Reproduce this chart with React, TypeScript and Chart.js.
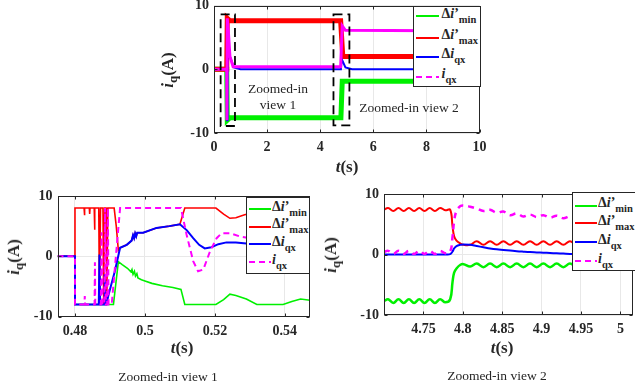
import React, { useEffect, useRef } from 'react';
import { Chart, registerables } from 'chart.js';
Chart.register(...registerables);

// ===================== DATA =====================
const SERIES_NAMES = ['Δi’min', 'Δi’max', 'Δiqx', 'iqx'];

// Overview, t = 0 … 10 s
const ovMinT = [0, 0.48, 0.5, 0.6, 4.78, 4.83, 10];
const ovMinV = [0, 0, -8, -7.6, -7.6, -1.9, -1.9];
const ovMaxT = [0, 0.48, 0.5, 0.6, 4.77, 4.85, 10];
const ovMaxV = [0, 0, 8, 7.6, 7.6, 2.0, 2.0];
const ovQxT = [0, 0.48, 0.49, 0.51, 0.6, 0.75, 1.0, 4.78, 4.81, 4.95, 5.2, 10];
const ovQxV = [0, 0, -8, 5.3, 2.0, 0.3, 0, 0, 1.6, 0.3, 0, 0];
const ovIqxT = [0, 0.48, 0.485, 0.5, 0.54, 0.6, 0.72, 4.77, 4.83, 4.95, 10];
const ovIqxV = [0, 0, -8, 8, 6.0, 2.0, 0.4, 0.4, 6.8, 6.1, 6.0];

// Zoomed-in view 1, t = 0.475 … 0.547 s
const z1MinT = [0.475, 0.48, 0.48, 0.491, 0.4924, 0.4935, 0.495, 0.496, 0.4963, 0.4966, 0.497, 0.4973, 0.4977, 0.498, 0.499, 0.5, 0.502, 0.505, 0.508, 0.5103, 0.5114, 0.5203, 0.5225, 0.5243, 0.526, 0.529, 0.532, 0.5395, 0.542, 0.5445, 0.5472];
const z1MinV = [0, 0, -8, -8, -0.9, -1.4, -2.0, -2.6, -2.2, -3.0, -2.5, -3.3, -2.9, -3.6, -3.9, -4.1, -4.5, -4.9, -5.2, -5.5, -8, -8, -7.2, -6.3, -6.5, -7.1, -8, -8, -7.5, -7.1, -7.3];
const z1MaxT = [0.475, 0.48, 0.48, 0.4826, 0.4827, 0.4828, 0.4841, 0.4842, 0.4843, 0.4855, 0.4856, 0.4857, 0.4868, 0.487, 0.4873, 0.488, 0.4882, 0.4885, 0.4889, 0.4891, 0.4894, 0.4912, 0.4918, 0.4924, 0.4929, 0.4948, 0.4962, 0.4966, 0.4969, 0.4972, 0.4975, 0.4978, 0.4995, 0.5033, 0.507, 0.51, 0.5114, 0.5203, 0.5225, 0.5243, 0.526, 0.5285, 0.531];
const z1MaxV = [0, 0, 8, 8, 6.8, 8, 8, 7.0, 8, 8, 4.4, 8, 8, -8, 8, 8, -8, 8, 8, -7, 8, 8, 5, 1.0, 1.4, 1.9, 2.6, 3.5, 3.0, 3.8, 3.3, 3.9, 3.9, 4.7, 5.0, 5.3, 8, 8, 7.0, 6.3, 6.4, 6.9, 7.2];
const z1QxT = [0.475, 0.48, 0.48, 0.4868, 0.487, 0.4872, 0.4883, 0.4885, 0.4887, 0.489, 0.4895, 0.4914, 0.4929, 0.4948, 0.4962, 0.4966, 0.4969, 0.4972, 0.4975, 0.4978, 0.4995, 0.5033, 0.507, 0.51, 0.512, 0.5138, 0.5155, 0.5171, 0.519, 0.521, 0.5233, 0.526, 0.529];
const z1QxV = [0, 0, -8, -8, 0.3, -8, -8, -3, -8, -8, -6.6, -2.5, 1.4, 1.9, 2.6, 3.5, 3.0, 3.8, 3.3, 3.9, 3.9, 4.7, 5.0, 5.3, 4.3, 3.0, 1.9, 1.3, 1.5, 2.0, 2.3, 2.3, 2.1];
const z1IqxT = [0.475, 0.48, 0.48, 0.4827, 0.4828, 0.4829, 0.4856, 0.4857, 0.4858, 0.4874, 0.4876, 0.4878, 0.4884, 0.4886, 0.4888, 0.4892, 0.4894, 0.4896, 0.4905, 0.4929, 0.5103, 0.5119, 0.5138, 0.5152, 0.5167, 0.5186, 0.5205, 0.5219, 0.5245, 0.5271, 0.53];
const z1IqxV = [0, 0, -8, -8, -6.6, -8, -8, -1, -8, -8, 4, -8, -8, 8, -8, -8, 8, -8, -8, 8, 8, 3.6, -0.8, -2.5, -2.2, 0.8, 3.0, 3.8, 3.8, 3.3, 3.0];

// Zoomed-in view 2, t = 4.70 … 5.016 s
const z2T = [4.7, 4.7052, 4.7118, 4.7184, 4.725, 4.7316, 4.7382, 4.7448, 4.7514, 4.758, 4.7646, 4.7712, 4.7778, 4.784, 4.787, 4.789, 4.792, 4.797, 4.801, 4.8093, 4.8177, 4.8262, 4.8346, 4.8431, 4.8515, 4.86, 4.8684, 4.8769, 4.8853, 4.8938, 4.9022, 4.9107, 4.9191, 4.9276, 4.936, 4.9445, 4.953];
const z2MinV = [-7.7, -7.4, -8.0, -7.4, -8.0, -7.4, -8.0, -7.4, -8.0, -7.4, -8.0, -7.4, -7.9, -7.4, -4.5, -3.0, -2.3, -1.7, -1.6, -2.0, -1.5, -2.1, -1.5, -2.1, -1.5, -2.1, -1.5, -2.1, -1.5, -2.1, -1.5, -2.1, -1.5, -2.1, -1.5, -2.1, -1.8];
const z2MaxV = [7.4, 7.7, 7.2, 7.7, 7.2, 7.7, 7.2, 7.7, 7.2, 7.7, 7.2, 7.7, 7.3, 7.4, 4.6, 3.0, 2.3, 1.8, 1.6, 1.6, 2.2, 1.6, 2.2, 1.6, 2.2, 1.6, 2.2, 1.6, 2.2, 1.6, 2.2, 1.6, 2.2, 1.6, 2.2, 1.6, 2.0];
const z2QxV = [0, 0, 0, 0, 0, 0, 0, 0, 0, 0, 0, 0, 0, 0.05, 0.5, 1.0, 1.4, 1.6, 1.65, 1.6, 1.4, 1.2, 1.0, 0.85, 0.75, 0.65, 0.55, 0.47, 0.4, 0.35, 0.3, 0.25, 0.2, 0.15, 0.1, 0.08, 0.05];
const z2IqxV = [0.4, 0.6, 0.1, 0.6, 0.1, 0.6, 0.1, 0.6, 0.1, 0.6, 0.1, 0.6, 0.2, 0.5, 3.0, 5.5, 7.2, 8.0, 8.1, 7.9, 7.6, 7.2, 7.4, 6.9, 7.1, 6.5, 6.8, 6.3, 6.6, 6.2, 6.5, 6.1, 6.4, 6.0, 6.3, 5.9, 6.1];

const OV_X_TICKS = [0, 2, 4, 6, 8, 10];
const Z1_X_TICKS = [0.48, 0.5, 0.52, 0.54];
const Z2_X_TICKS = [4.75, 4.8, 4.85, 4.9, 4.95, 5];
const Y_TICKS = [-10, 0, 10];
const ZOOM_BOXES = [[0.25, 0.79, -8.9, 8.6], [4.5, 5.1, -8.8, 8.6]];

// ===================== STYLE =====================
const FONT = '"Liberation Serif", "Times New Roman", Times, serif';
const INK = '#262626';
const C_MIN = '#00f000';
const C_MAX = '#ff0000';
const C_QX = '#0000ff';
const C_IQX = '#ff00ff';
const OFF = 20;
const CW = 635 + 2 * OFF;
const CH = 389 + 2 * OFF;
const YW = 40;
const XH = 30;

type Series = { name: string; t: number[]; v: number[]; color: string; width: number; dash?: number[]; order: number };
type Panel = { rect: number[]; xMin: number; xMax: number; xTicks: number[]; series: Series[]; tension: number; boxes?: number[][] };

const PANELS: Panel[] = [
  {
    rect: [214, 5.5, 479.5, 133], xMin: 0, xMax: 10, xTicks: OV_X_TICKS, tension: 0, boxes: ZOOM_BOXES,
    series: [
      { name: SERIES_NAMES[0], t: ovMinT, v: ovMinV, color: C_MIN, width: 5, order: 3 },
      { name: SERIES_NAMES[1], t: ovMaxT, v: ovMaxV, color: C_MAX, width: 5, order: 2 },
      { name: SERIES_NAMES[2], t: ovQxT, v: ovQxV, color: C_QX, width: 2, order: 1 },
      { name: SERIES_NAMES[3], t: ovIqxT, v: ovIqxV, color: C_IQX, width: 3, order: 0 },
    ],
  },
  {
    rect: [57.5, 196, 310, 316.5], xMin: 0.475, xMax: 0.5472, xTicks: Z1_X_TICKS, tension: 0,
    series: [
      { name: SERIES_NAMES[0], t: z1MinT, v: z1MinV, color: C_MIN, width: 1.6, order: 3 },
      { name: SERIES_NAMES[1], t: z1MaxT, v: z1MaxV, color: C_MAX, width: 1.6, order: 2 },
      { name: SERIES_NAMES[2], t: z1QxT, v: z1QxV, color: C_QX, width: 2, order: 1 },
      { name: SERIES_NAMES[3], t: z1IqxT, v: z1IqxV, color: C_IQX, width: 2, dash: [6, 4], order: 0 },
    ],
  },
  {
    rect: [384, 194, 633, 315], xMin: 4.7, xMax: 5.016, xTicks: Z2_X_TICKS, tension: 0.4,
    series: [
      { name: SERIES_NAMES[0], t: z2T, v: z2MinV, color: C_MIN, width: 2.5, order: 3 },
      { name: SERIES_NAMES[1], t: z2T, v: z2MaxV, color: C_MAX, width: 2, order: 2 },
      { name: SERIES_NAMES[2], t: z2T, v: z2QxV, color: C_QX, width: 2, order: 1 },
      { name: SERIES_NAMES[3], t: z2T, v: z2IqxV, color: C_IQX, width: 2.5, dash: [6, 5], order: 0 },
    ],
  },
];

const fmt = (v: number) => String(Number(Number(v).toFixed(4)));

function buildChart(canvas: HTMLCanvasElement, p: Panel) {
  const [L, T, R, B] = p.rect;
  const frame = {
    id: 'frame',
    afterDatasetsDraw(chart: any) {
      const { ctx, chartArea: a, scales } = chart;
      const xs = scales.x;
      const ys = scales.y;
      ctx.save();
      if (p.boxes) {
        ctx.strokeStyle = '#000';
        ctx.lineWidth = 1.8;
        ctx.setLineDash([9, 5]);
        for (const [x0, x1, y0, y1] of p.boxes) {
          const px0 = xs.getPixelForValue(x0);
          const px1 = xs.getPixelForValue(x1);
          const py0 = ys.getPixelForValue(y0);
          const py1 = ys.getPixelForValue(y1);
          ctx.strokeRect(px0, py1, px1 - px0, py0 - py1);
        }
        ctx.setLineDash([]);
      }
      ctx.strokeStyle = INK;
      ctx.lineWidth = 1;
      const l = Math.round(a.left) + 0.5;
      const r = Math.round(a.right) - 0.5;
      const t = Math.round(a.top) + 0.5;
      const b = Math.round(a.bottom) - 0.5;
      ctx.strokeRect(l, t, r - l, b - t);
      ctx.beginPath();
      for (const v of p.xTicks) {
        const x = Math.round(xs.getPixelForValue(v)) + 0.5;
        ctx.moveTo(x, b); ctx.lineTo(x, b - 3);
        ctx.moveTo(x, t); ctx.lineTo(x, t + 3);
      }
      for (const v of Y_TICKS) {
        const y = Math.round(ys.getPixelForValue(v)) + 0.5;
        ctx.moveTo(l, y); ctx.lineTo(l + 3, y);
        ctx.moveTo(r, y); ctx.lineTo(r - 3, y);
      }
      ctx.stroke();
      ctx.restore();
    },
  };

  const tickFont = { family: FONT, weight: 'bold' as const, size: 14 };
  return new Chart(canvas, {
    type: 'line',
    data: {
      datasets: p.series.map((s) => ({
        label: s.name,
        data: s.t.map((t, i) => ({ x: t, y: s.v[i] })),
        borderColor: s.color,
        backgroundColor: s.color,
        borderWidth: s.width,
        borderDash: s.dash || [],
        pointRadius: 0,
        tension: p.tension,
        fill: false,
        order: s.order,
      })),
    },
    options: {
      animation: false,
      responsive: false,
      maintainAspectRatio: false,
      devicePixelRatio: 1,
      events: [],
      layout: {
        padding: {
          left: L + OFF - YW,
          top: T + OFF,
          right: CW - (R + OFF),
          bottom: CH - (B + OFF) - XH,
        },
      },
      plugins: { legend: { display: false }, tooltip: { enabled: false } },
      scales: {
        x: {
          type: 'linear',
          min: p.xMin,
          max: p.xMax,
          afterBuildTicks: (s: any) => { s.ticks = p.xTicks.map((v) => ({ value: v })); },
          afterFit: (s: any) => { s.height = XH; },
          grid: { color: '#e8e8e8', drawTicks: false, lineWidth: 1 },
          border: { display: false },
          ticks: { padding: 6, color: INK, font: tickFont, callback: (v: any) => fmt(v), maxRotation: 0, autoSkip: false },
        },
        y: {
          type: 'linear',
          min: -10,
          max: 10,
          afterBuildTicks: (s: any) => { s.ticks = Y_TICKS.map((v) => ({ value: v })); },
          afterFit: (s: any) => { s.width = YW; },
          grid: { color: '#e8e8e8', drawTicks: false, lineWidth: 1 },
          border: { display: false },
          ticks: { padding: 5, color: INK, font: tickFont, callback: (v: any) => fmt(v), autoSkip: false },
        },
      },
    },
    plugins: [frame],
  } as any);
}

// ===================== OVERLAY TEXT =====================
const LEG_ROWS = [
  { color: C_MIN, dash: false, main: <>Δ<i>i</i>’</>, sub: 'min' },
  { color: C_MAX, dash: false, main: <>Δ<i>i</i>’</>, sub: 'max' },
  { color: C_QX, dash: false, main: <>Δ<i>i</i></>, sub: 'qx' },
  { color: C_IQX, dash: true, main: <><i>i</i></>, sub: 'qx' },
];

function Legend({ box, rowYs, lineX, textX }: { box: number[]; rowYs: number[]; lineX: number[]; textX: number }) {
  const [bx, by, bw, bh] = box;
  const lw = lineX[1] - lineX[0];
  return (
    <div style={{ position: 'absolute', left: bx, top: by, width: bw, height: bh, border: `1px solid ${INK}`, background: '#fff', boxSizing: 'border-box' }}>
      {rowYs.map((ry, i) => {
        const row = LEG_ROWS[i];
        return (
          <React.Fragment key={i}>
            <svg style={{ position: 'absolute', left: lineX[0] - bx - 1, top: ry - by - 1 - 3, overflow: 'visible' }} width={lw} height={6}>
              <line x1={0} x2={lw} y1={3} y2={3} stroke={row.color} strokeWidth={2} strokeDasharray={row.dash ? '6 4' : undefined} />
            </svg>
            <div style={{ position: 'absolute', left: textX - bx - 1, top: ry - by - 1 - 10.5, font: `bold 14px ${FONT}`, lineHeight: '16px', whiteSpace: 'nowrap', color: INK }}>
              {row.main}
              <span style={{ fontSize: 10.5, verticalAlign: -5, lineHeight: 0 }}>{row.sub}</span>
            </div>
          </React.Fragment>
        );
      })}
    </div>
  );
}

function Centered({ cx, cy, rotate, style, children }: { cx: number; cy: number; rotate?: boolean; style?: React.CSSProperties; children: React.ReactNode }) {
  return (
    <div style={{ position: 'absolute', left: cx, top: cy, transform: `translate(-50%,-50%)${rotate ? ' rotate(-90deg)' : ''}`, whiteSpace: 'nowrap', color: INK, ...style }}>
      {children}
    </div>
  );
}

const titleStyle: React.CSSProperties = { font: `bold 17px ${FONT}`, lineHeight: '20px' };
const noteStyle: React.CSSProperties = { font: `13.5px ${FONT}`, lineHeight: '16px' };

function YTitle({ cx, cy }: { cx: number; cy: number }) {
  return (
    <Centered cx={cx} cy={cy} rotate style={titleStyle}>
      <i>i</i><span style={{ fontSize: 13, verticalAlign: -4, lineHeight: 0 }}>q</span>(A)
    </Centered>
  );
}
function XTitle({ cx, cy }: { cx: number; cy: number }) {
  return (
    <Centered cx={cx} cy={cy} style={titleStyle}>
      <i>t</i>(s)
    </Centered>
  );
}

export default function App() {
  const r0 = useRef<HTMLCanvasElement>(null);
  const r1 = useRef<HTMLCanvasElement>(null);
  const r2 = useRef<HTMLCanvasElement>(null);
  useEffect(() => {
    const refs = [r0, r1, r2];
    const charts = PANELS.map((p, i) => buildChart(refs[i].current as HTMLCanvasElement, p));
    return () => charts.forEach((c) => c.destroy());
  }, []);
  const refs = [r0, r1, r2];
  return (
    <div style={{ position: 'fixed', left: 0, top: 0, width: 635, height: 389, overflow: 'hidden', background: '#fff', fontFamily: FONT }}>
      {PANELS.map((_, i) => (
        <canvas key={i} ref={refs[i]} width={CW} height={CH} style={{ position: 'absolute', left: -OFF, top: -OFF, width: CW, height: CH }} />
      ))}

      {/* overview */}
      <Legend box={[412.5, 6, 68.5, 81]} rowYs={[16, 37.7, 56.7, 76.7]} lineX={[416, 439]} textX={441.5} />
      <YTitle cx={168} cy={70} />
      <XTitle cx={347} cy={167} />
      <Centered cx={278} cy={89} style={noteStyle}>Zoomed-in</Centered>
      <Centered cx={278} cy={105} style={noteStyle}>view 1</Centered>
      <Centered cx={409} cy={108} style={noteStyle}>Zoomed-in view 2</Centered>

      {/* zoomed-in view 1 */}
      <Legend box={[245.5, 196.5, 64, 77]} rowYs={[209, 226.7, 244.3, 262.3]} lineX={[248.5, 270.5]} textX={272} />
      <YTitle cx={14} cy={257} />
      <XTitle cx={182} cy={348} />
      <Centered cx={168} cy={377} style={noteStyle}>Zoomed-in view 1</Centered>

      {/* zoomed-in view 2 */}
      <Legend box={[571.5, 192, 70, 79]} rowYs={[205.7, 223.3, 242.3, 261]} lineX={[574.5, 596.5]} textX={598} />
      <YTitle cx={331} cy={255} />
      <XTitle cx={502} cy={348} />
      <Centered cx={497} cy={376} style={noteStyle}>Zoomed-in view 2</Centered>
    </div>
  );
}
